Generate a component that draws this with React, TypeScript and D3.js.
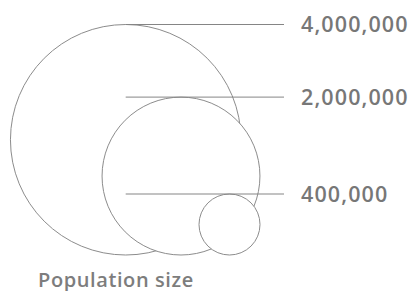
import React from 'react';
import * as d3 from 'd3';

// legend values, biggest first so smaller circles sit on top
const values = [4000000, 2000000, 400000];
const title = "Population size";

const width = 416;
const height = 291;
const baseY = 255;

const fmt = d3.format(",");

const rScale = d3.scaleSqrt()
  .domain([400000, 4000000])
  .range([30.5, 115.25]);

// horizontal placement of each circle's centre
const xScale = d3.scaleLinear()
  .domain([400000, 2000000, 4000000])
  .range([229.5, 181, 125.7]);

const lineStart = xScale(d3.max(values) as number);
const lineEnd = 284;
const labelX = 301;

export default function App() {
  return (
    <svg
      width={width}
      height={height}
      style={{ position: 'absolute', left: 0, top: 0, display: 'block', background: '#fff' }}
    >
      <g>
        {values.map(v => (
          <circle
            key={v}
            cx={xScale(v)}
            cy={baseY - rScale(v)}
            r={rScale(v)}
            fill="#fff"
            stroke="#8c8c8c"
            strokeWidth={1}
          />
        ))}
      </g>
      <g>
        {values.map(v => {
          const y = baseY - 2 * rScale(v);
          return (
            <g key={v}>
              <line x1={lineStart} x2={lineEnd} y1={y} y2={y} stroke="#858585" strokeWidth={1} />
              <text
                x={labelX}
                y={y}
                dy="0.36em"
                fontFamily="'Open Sans', sans-serif"
                fontWeight={600}
                fontSize={21.5}
                letterSpacing={1.1}
                fill="#777"
              >
                {fmt(v)}
              </text>
            </g>
          );
        })}
      </g>
      <text
        x={38}
        y={286.5}
        fontFamily="'Open Sans', sans-serif"
        fontWeight={600}
        fontSize={20}
        letterSpacing={0.6}
        fill="#7d7d7d"
      >
        {title}
      </text>
    </svg>
  );
}
